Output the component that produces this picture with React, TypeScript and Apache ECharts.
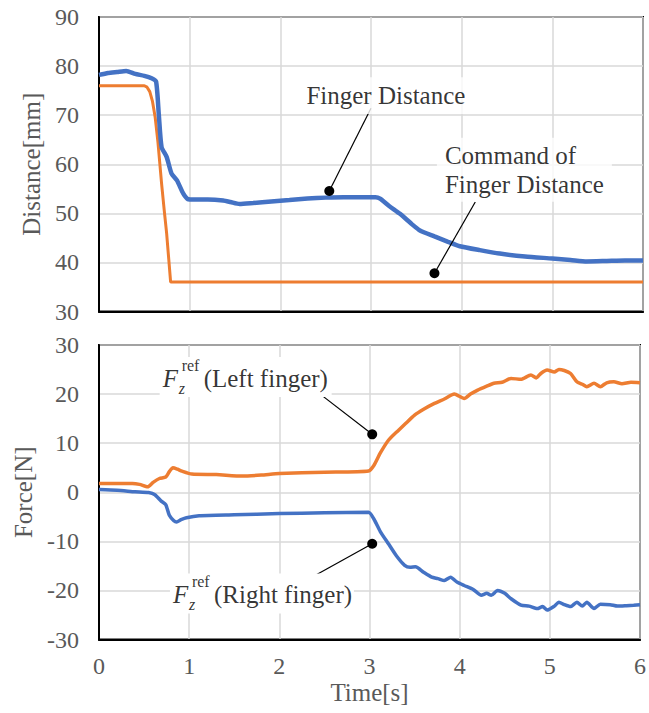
import React, { useEffect, useRef } from "react";
import * as echarts from "echarts";

// ---------- data ----------
const xTicks = [0, 1, 2, 3, 4, 5, 6];

const distTime = [0, 0.1, 0.2, 0.3, 0.4, 0.5, 0.58, 0.63, 0.66, 0.69, 0.746, 0.8, 0.86, 0.93, 0.98, 1.05, 1.2, 1.37, 1.45, 1.55, 1.7, 1.9, 2.1, 2.3, 2.5, 2.7, 2.9, 3.05, 3.1, 3.2, 3.32, 3.45, 3.54, 3.7, 3.85, 3.98, 4.2, 4.42, 4.7, 5.0, 5.2, 5.38, 5.6, 5.8, 6.0];
const distValues = [78.2, 78.6, 78.8, 79.0, 78.4, 78.0, 77.5, 76.8, 70.0, 63.5, 61.5, 58.1, 56.7, 54.0, 52.9, 52.8, 52.8, 52.6, 52.3, 51.9, 52.1, 52.4, 52.7, 53.0, 53.2, 53.3, 53.3, 53.3, 53.0, 51.5, 49.9, 47.8, 46.5, 45.3, 44.2, 43.3, 42.5, 41.8, 41.2, 40.8, 40.5, 40.2, 40.3, 40.4, 40.4];

const cmdTime = [0, 0.5, 0.53, 0.56, 0.59, 0.62, 0.65, 0.69, 0.72, 0.746, 0.77, 0.79, 6.0];
const cmdValues = [76, 76, 75.7, 74.8, 72.8, 69.5, 64.5, 56.1, 50.5, 45.9, 40.5, 36, 36];

const leftTime = [0, 0.37, 0.45, 0.54, 0.6, 0.67, 0.74, 0.78, 0.82, 0.87, 0.92, 1.03, 1.3, 1.59, 1.8, 2.0, 2.5, 2.99, 3.05, 3.12, 3.21, 3.32, 3.4, 3.5, 3.6, 3.72, 3.83, 3.94, 4.05, 4.12, 4.2, 4.3, 4.38, 4.47, 4.57, 4.68, 4.79, 4.85, 4.9, 4.97, 5.05, 5.1, 5.16, 5.23, 5.3, 5.36, 5.41, 5.49, 5.56, 5.63, 5.71, 5.8, 5.9, 6.0];
const leftValues = [1.8, 1.8, 1.6, 1.1, 2.0, 2.8, 3.1, 4.2, 5.0, 4.7, 4.3, 3.7, 3.6, 3.3, 3.5, 3.8, 4.1, 4.35, 5.5, 8.0, 10.6, 12.6, 14.0, 15.7, 16.9, 18.1, 19.0, 20.0, 19.1, 20.0, 20.8, 21.6, 22.2, 22.4, 23.2, 23.0, 23.9, 23.3, 24.2, 24.9, 24.5, 25.0, 24.8, 24.2, 22.5, 22.0, 21.5, 22.2, 21.5, 22.3, 22.5, 22.1, 22.4, 22.3];

const rightTime = [0, 0.2, 0.4, 0.55, 0.62, 0.69, 0.74, 0.78, 0.83, 0.86, 0.91, 0.97, 1.11, 1.5, 2.0, 2.5, 2.99, 3.05, 3.12, 3.21, 3.3, 3.39, 3.45, 3.51, 3.6, 3.69, 3.76, 3.83, 3.9, 3.97, 4.05, 4.15, 4.24, 4.3, 4.35, 4.42, 4.5, 4.57, 4.68, 4.77, 4.86, 4.92, 4.97, 5.05, 5.1, 5.16, 5.23, 5.3, 5.36, 5.41, 5.49, 5.56, 5.67, 5.75, 5.85, 5.93, 6.0];
const rightValues = [0.55, 0.4, 0.1, -0.07, -0.5, -1.8, -2.5, -4.7, -5.8, -6.05, -5.6, -5.2, -4.8, -4.6, -4.35, -4.2, -4.1, -5.5, -8.0, -10.5, -13.0, -14.9, -15.3, -15.2, -16.3, -17.3, -17.6, -18.0, -17.3, -18.3, -19.0, -19.8, -21.0, -20.6, -21.0, -20.0, -20.6, -21.7, -23.0, -23.2, -23.7, -23.3, -24.0, -23.2, -22.4, -22.9, -23.3, -22.4, -23.2, -22.4, -23.7, -22.8, -22.9, -23.2, -23.1, -23.0, -22.9];

// annotations (data coordinates): [grid, x, y]
const fingerLabelCenter = [0, 3.164, 73.98];
const fingerDot = [0, 2.54, 54.55];
const fingerLineEnd = [0, 3.0, 71.4];
const cmdLabelLeft = [0, 3.815, 58.88];
const cmdDot = [0, 3.70, 37.8];
const cmdLineEnd = [0, 4.15, 52.3];
const leftLabelBase = [1, 0.706, 21.43];
const leftDot = [1, 3.03, 11.8];
const leftLineEnd = [1, 2.41, 20.6];
const rightLabelBase = [1, 0.82, -22.65];
const rightDot = [1, 3.03, -10.5];
const rightLineEnd = [1, 2.41, -16.8];

const FONT = "Liberation Serif";
const GRAY = "#595959";
const BLUE = "#4472C4";
const ORANGE = "#ED7D31";

const zip = (xs: number[], ys: number[]) => xs.map((x, i) => [x, ys[i]]);

type Lbl = {
  at: number[];
  text: string;
  size: number;
  italic?: boolean;
  align?: string;
  dx?: number;
  dy?: number;
  bg?: boolean;
  lineHeight?: number;
  padding?: number[];
};

const labelItem = (l: Lbl) => ({
  value: [l.at[1], l.at[2]],
  label: {
    show: true,
    position: "inside",
    formatter: l.text,
    fontFamily: FONT,
    fontSize: l.size,
    fontStyle: l.italic ? "italic" : "normal",
    color: "#000",
    align: l.align || "center",
    verticalAlign: "middle",
    offset: [l.dx || 0, l.dy || 0],
    lineHeight: l.lineHeight || l.size * 1.15,
    backgroundColor: l.bg ? "#fff" : "transparent",
    padding: l.padding || 0,
  },
});

const fParts = (base: number[], suffix: string): Lbl[] => [
  { at: base, text: "F", size: 25, italic: true, align: "left", dy: -8.5 },
  { at: base, text: "z", size: 16, italic: true, align: "left", dx: 16, dy: 1.5 },
  { at: base, text: "ref", size: 16, align: "left", dx: 19, dy: -21.5 },
  { at: base, text: suffix, size: 25, align: "left", dx: 41, dy: -8.5 },
];

const topLabels: Lbl[] = [
  { at: fingerLabelCenter, text: "Finger Distance", size: 25, bg: true, padding: [4, 6] },
  { at: cmdLabelLeft, text: "Command of\nFinger Distance", size: 25, align: "left", dx: -8, bg: true, lineHeight: 29, padding: [3, 8] },
];
const bottomLabels: Lbl[] = [
  ...fParts(leftLabelBase, "(Left finger)"),
  ...fParts(rightLabelBase, "(Right finger)"),
];

export default function App() {
  const ref = useRef<HTMLDivElement>(null);
  useEffect(() => {
    if (!ref.current) return;
    const chart = echarts.init(ref.current, null, { renderer: "svg" });
    const gridTop = [17, 345];
    const gridH = 294.5;
    const xAxisBase = (gi: number, labels: boolean) => ({
      type: "value",
      gridIndex: gi,
      min: 0,
      max: 6,
      interval: 1,
      axisLine: { show: true, onZero: false, lineStyle: { color: "#000", width: 2 } },
      axisTick: { show: false },
      splitLine: { show: true, lineStyle: { color: "#d9d9d9", width: 1.5 } },
      axisLabel: {
        show: labels,
        fontFamily: FONT,
        fontSize: 24,
        color: GRAY,
        margin: 14,
        formatter: (v: number) => (xTicks.includes(v) ? String(v) : ""),
      },
      name: labels ? "Time[s]" : "",
      nameLocation: "middle",
      nameGap: 40,
      nameTextStyle: { fontFamily: FONT, fontSize: 25, color: GRAY },
    });
    const yAxisBase = (gi: number, min: number, max: number, name: string, gap: number) => ({
      type: "value",
      gridIndex: gi,
      min,
      max,
      interval: 10,
      axisLine: { show: true, onZero: false, lineStyle: { color: "#000", width: 2 } },
      axisTick: { show: false },
      splitLine: { show: true, lineStyle: { color: "#d9d9d9", width: 1.5 } },
      axisLabel: { fontFamily: FONT, fontSize: 24, color: GRAY, margin: 20 },
      name,
      nameLocation: "middle",
      nameGap: gap,
      nameTextStyle: { fontFamily: FONT, fontSize: 25, color: GRAY },
    });
    const labelSeries = (gi: number, items: Lbl[]) => ({
      type: "scatter",
      xAxisIndex: gi,
      yAxisIndex: gi,
      symbolSize: 1,
      itemStyle: { color: "rgba(0,0,0,0)" },
      silent: true,
      z: 50,
      data: items.map(labelItem),
    });
    chart.setOption({
      animation: false,
      backgroundColor: "#fff",
      textStyle: { fontFamily: FONT },
      grid: gridTop.map((t) => ({
        left: 99,
        right: 6,
        top: t,
        height: gridH,
        show: true,
        borderColor: "#000",
        borderWidth: 2,
        backgroundColor: "transparent",
      })),
      xAxis: [xAxisBase(0, false), xAxisBase(1, true)],
      yAxis: [
        yAxisBase(0, 30, 90, "Distance[mm]", 55),
        yAxisBase(1, -30, 30, "Force[N]", 55),
      ],
      series: [
        {
          type: "line", xAxisIndex: 0, yAxisIndex: 0, data: zip(cmdTime, cmdValues),
          showSymbol: false, smooth: false, lineStyle: { color: ORANGE, width: 3 }, z: 2,
        },
        {
          type: "line", xAxisIndex: 0, yAxisIndex: 0, data: zip(distTime, distValues),
          showSymbol: false, smooth: 0.2, lineStyle: { color: BLUE, width: 4.5 }, z: 3,
        },
        {
          type: "line", xAxisIndex: 1, yAxisIndex: 1, data: zip(leftTime, leftValues),
          showSymbol: false, smooth: 0.2, lineStyle: { color: ORANGE, width: 3.5 }, z: 2,
        },
        {
          type: "line", xAxisIndex: 1, yAxisIndex: 1, data: zip(rightTime, rightValues),
          showSymbol: false, smooth: 0.2, lineStyle: { color: BLUE, width: 3.5 }, z: 2,
        },
        labelSeries(0, topLabels),
        labelSeries(1, bottomLabels),
      ],
    });

    const px = (a: number[]) => chart.convertToPixel({ gridIndex: a[0] }, [a[1], a[2]]) as number[];
    const els: any[] = [];
    const leader = (dot: number[], end: number[]) => {
      const d = px(dot);
      const e = px(end);
      els.push({ type: "line", z: 10, shape: { x1: d[0], y1: d[1], x2: e[0], y2: e[1] }, style: { stroke: "#000", lineWidth: 1.2 } });
      els.push({ type: "circle", z: 11, shape: { cx: d[0], cy: d[1], r: 5 }, style: { fill: "#000" } });
    };
    leader(fingerDot, fingerLineEnd);
    leader(cmdDot, cmdLineEnd);
    leader(leftDot, leftLineEnd);
    leader(rightDot, rightLineEnd);
    // white boxes behind the F labels (cover gridlines)
    const box = (base: number[], width: number) => {
      const b = px(base);
      els.push({ type: "rect", z: 12, shape: { x: b[0] - 3, y: b[1] - 30, width, height: 40 }, style: { fill: "#fff" } });
    };
    box(leftLabelBase, 172);
    box(rightLabelBase, 184);

    chart.setOption({ graphic: { elements: els } });

    return () => chart.dispose();
  }, []);
  return <div ref={ref} style={{ position: "fixed", left: 0, top: 0, width: 649, height: 713 }} />;
}
